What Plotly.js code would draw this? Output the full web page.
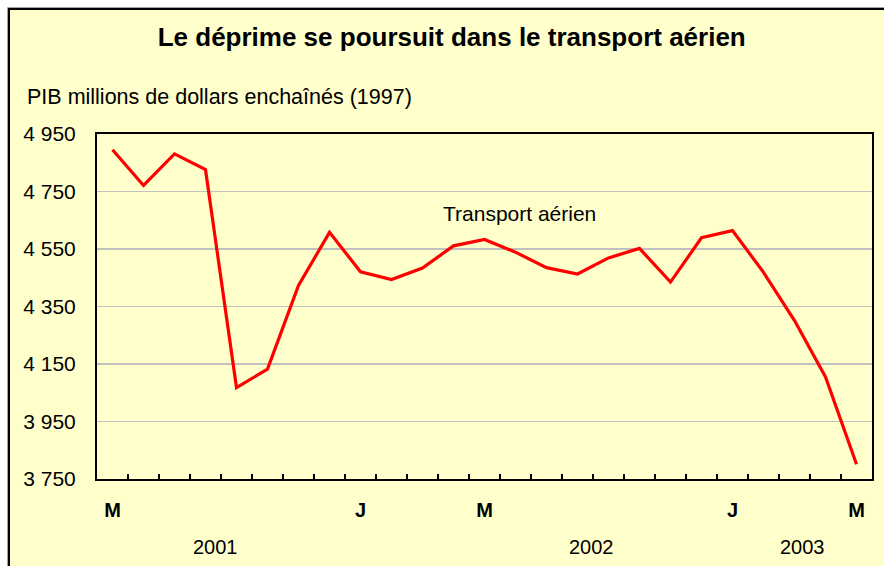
<!DOCTYPE html>
<html>
<head>
<meta charset="utf-8">
<script src="https://cdn.plot.ly/plotly-3.0.1.min.js"></script>
<style>
html,body{margin:0;padding:0;background:#fff;}
#chart{width:884px;height:566px;}
</style>
</head>
<body>
<div id="chart"></div>
<script>
// Months from May 2001 to May 2003
const months = [
  "mai 2001","juin 2001","juil. 2001","août 2001","sept. 2001","oct. 2001","nov. 2001","déc. 2001",
  "janv. 2002","févr. 2002","mars 2002","avr. 2002","mai 2002","juin 2002","juil. 2002","août 2002",
  "sept. 2002","oct. 2002","nov. 2002","déc. 2002","janv. 2003","févr. 2003","mars 2003","avr. 2003","mai 2003"
];
const transportAerien = [
  4895, 4771, 4881, 4826, 4068, 4132, 4423, 4608,
  4471, 4444, 4484, 4561, 4583, 4539, 4485, 4463,
  4519, 4552, 4435, 4589, 4614, 4469, 4301, 4105, 3801
];
const monthLabels = [
  "M","","","","","","","",
  "J","","","","M","","","",
  "","","","","J","","","","M"
];
const yTickVals = [3750, 3950, 4150, 4350, 4550, 4750, 4950];
const yTickText = ["3 750","3 950","4 150","4 350","4 550","4 750","4 950"];
const yearLabels = ["2001","2002","2003"];
const yearPos = [0.1535, 0.6387, 0.9097];

const FONT = "Liberation Sans, Arial, sans-serif";

const trace = {
  x: months,
  y: transportAerien,
  type: "scatter",
  mode: "lines",
  line: {color: "#FF0000", width: 3.2},
  hoverinfo: "skip"
};

const annotations = yearLabels.map((t, i) => ({
  text: t, xref: "paper", yref: "paper", x: yearPos[i], y: -0.197,
  xanchor: "center", yanchor: "middle", showarrow: false,
  font: {family: FONT, size: 20, color: "#000"}
}));
annotations.push({
  text: "PIB millions de dollars enchaînés (1997)", xref: "paper", yref: "paper",
  x: -0.0929, y: 1.107, xanchor: "left", yanchor: "middle", showarrow: false,
  font: {family: FONT, size: 21.5, color: "#000"}
});
annotations.push({
  text: "Transport aérien", xref: "paper", yref: "paper",
  x: 0.545, y: 0.77, xanchor: "center", yanchor: "middle", showarrow: false,
  font: {family: FONT, size: 21, color: "#000"}
});

const layout = {
  width: 884, height: 566,
  margin: {l: 97, r: 12, t: 134, b: 87},
  paper_bgcolor: "#FFFFFF",
  plot_bgcolor: "#FFFFFF",
  showlegend: false,
  title: {
    text: "<b>Le déprime se poursuit dans le transport aérien</b>",
    font: {family: FONT, size: 26, color: "#000"},
    x: 0.511, xref: "container", xanchor: "center",
    y: 0.9346, yref: "container", yanchor: "middle"
  },
  xaxis: {
    type: "category",
    range: [-0.5, months.length - 0.5],
    tickmode: "array",
    tickvals: months,
    ticktext: monthLabels.map(s => s ? "<b>" + s + "</b>" : ""),
    tickson: "boundaries",
    ticks: "inside", ticklen: 5, tickwidth: 1.5, tickcolor: "#000",
    ticklabelstandoff: 12,
    tickfont: {family: FONT, size: 20, color: "#000"},
    showgrid: false, zeroline: false,
    showline: true, linecolor: "#000", linewidth: 2, mirror: true,
    fixedrange: true
  },
  yaxis: {
    range: [3750, 4950],
    tickmode: "array",
    tickvals: yTickVals,
    ticktext: yTickText,
    ticks: "",
    ticklabelstandoff: 15,
    tickfont: {family: FONT, size: 21, color: "#000"},
    showgrid: true, gridcolor: "#C0C0C0", gridwidth: 1.5,
    zeroline: false,
    showline: true, linecolor: "#000", linewidth: 2, mirror: true,
    fixedrange: true
  },
  shapes: [{
    type: "rect", xref: "paper", yref: "paper", layer: "below",
    x0: -0.1155, x1: 1.0252, y0: -0.2716, y1: 1.3667,
    fillcolor: "rgba(0,0,0,0)", line: {color: "#A0A0A0", width: 1}
  }, {
    type: "rect", xref: "paper", yref: "paper", layer: "below",
    x0: -0.11355, x1: 1.0232, y0: -0.2696, y1: 1.3623,
    fillcolor: "#FFFFCC", line: {color: "#000", width: 2}
  }],
  annotations: annotations
};

Plotly.newPlot("chart", [trace], layout, {displayModeBar: false, staticPlot: true});
</script>
</body>
</html>
